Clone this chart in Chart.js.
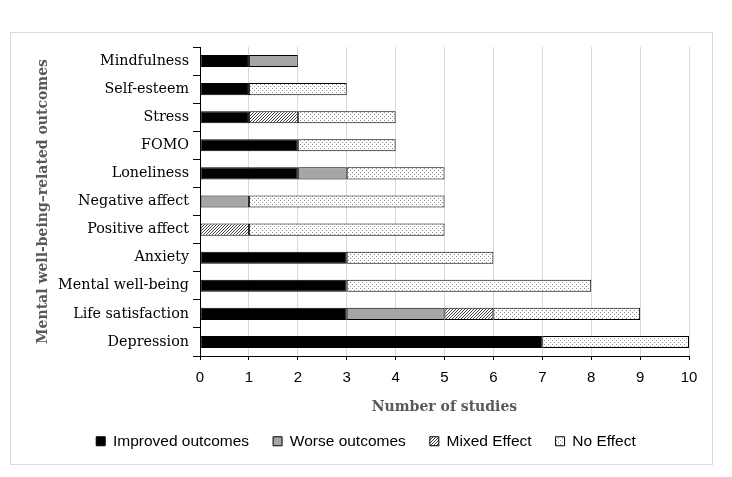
<!DOCTYPE html>
<html>
<head>
<meta charset="utf-8">
<script src="https://cdn.jsdelivr.net/npm/chart.js@4"></script>
<style>
  html, body { margin: 0; padding: 0; background: #fff; }
  canvas { display: block; }
</style>
</head>
<body>
<canvas id="studyChart" width="732" height="477"></canvas>
<script>
const outcomes = ['Mindfulness', 'Self-esteem', 'Stress', 'FOMO', 'Loneliness', 'Negative affect',
  'Positive affect', 'Anxiety', 'Mental well-being', 'Life satisfaction', 'Depression'];

const improved = [1, 1, 1, 2, 2, 0, 0, 3, 3, 3, 7];
const worse    = [1, 0, 0, 0, 1, 1, 0, 0, 0, 2, 0];
const mixed    = [0, 0, 1, 0, 0, 0, 1, 0, 0, 1, 0];
const noEffect = [0, 2, 2, 2, 2, 4, 4, 3, 5, 3, 3];

const xTicks = [0, 1, 2, 3, 4, 5, 6, 7, 8, 9, 10];

// little tiles for the hatched / dotted fills
function hatchPattern() {
  const c = document.createElement('canvas');
  c.width = 3; c.height = 3;
  const g = c.getContext('2d');
  g.fillStyle = '#fff';
  g.fillRect(0, 0, 3, 3);
  g.fillStyle = '#404040';
  g.fillRect(2, 0, 1, 1);
  g.fillRect(1, 1, 1, 1);
  g.fillRect(0, 2, 1, 1);
  return g.createPattern(c, 'repeat');
}

function dotPattern() {
  const c = document.createElement('canvas');
  c.width = 4; c.height = 4;
  const g = c.getContext('2d');
  g.fillStyle = '#fff';
  g.fillRect(0, 0, 4, 4);
  g.fillStyle = '#8c8c8c';
  g.fillRect(0, 0, 1, 1);
  g.fillRect(2, 2, 1, 1);
  return g.createPattern(c, 'repeat');
}

const frame = {
  id: 'frame',
  beforeDraw(chart) {
    const ctx = chart.ctx;
    ctx.save();
    ctx.fillStyle = '#fff';
    ctx.fillRect(0, 0, chart.width, chart.height);
    ctx.strokeStyle = '#d9d9d9';
    ctx.lineWidth = 1;
    ctx.strokeRect(10.5, 32.5, 702, 432);
    ctx.restore();
  }
};

const barStyle = { borderColor: '#000', borderWidth: 1, borderSkipped: false, barPercentage: 0.43, categoryPercentage: 1 };
const serif = 'DejaVu Serif';
const sans = 'Liberation Sans';

new Chart(document.getElementById('studyChart'), {
  type: 'bar',
  data: {
    labels: outcomes,
    datasets: [
      { label: 'Improved outcomes', data: improved, backgroundColor: '#000', ...barStyle },
      { label: 'Worse outcomes', data: worse, backgroundColor: '#a6a6a6', ...barStyle },
      { label: 'Mixed Effect', data: mixed, backgroundColor: hatchPattern(), ...barStyle },
      { label: 'No Effect', data: noEffect, backgroundColor: dotPattern(), ...barStyle }
    ]
  },
  options: {
    indexAxis: 'y',
    responsive: false,
    animation: false,
    layout: { padding: { top: 47, right: 43, bottom: 18, left: 43 } },
    plugins: {
      tooltip: { enabled: false },
      legend: {
        position: 'bottom',
        labels: {
          boxWidth: 9,
          boxHeight: 9,
          padding: 24,
          color: '#000',
          font: { family: sans, size: 15.5 }
        }
      }
    },
    scales: {
      x: {
        stacked: true,
        min: 0,
        max: 10,
        afterBuildTicks: s => { s.ticks = xTicks.map(v => ({ value: v })); },
        ticks: { color: '#000', padding: 9, font: { family: sans, size: 15 } },
        grid: { color: '#d9d9d9', tickColor: '#000', tickLength: 4, lineWidth: 1 },
        border: { color: '#000', width: 1 },
        title: {
          display: true,
          text: 'Number of studies',
          color: '#595959',
          font: { family: serif, size: 14, weight: 'bold' },
          padding: { top: 4, bottom: -6 }
        },
        afterFit: s => { s.height = 53.5; }
      },
      y: {
        stacked: true,
        ticks: { color: '#000', padding: 4, font: { family: serif, size: 14.3 } },
        grid: { drawOnChartArea: false, offset: true, tickColor: '#000', tickLength: 7 },
        border: { color: '#000', width: 1 },
        title: {
          display: true,
          text: 'Mental well-being–related outcomes',
          color: '#595959',
          font: { family: serif, size: 14, weight: 'bold' },
          padding: { top: -8.4, bottom: 0 }
        },
        afterFit: s => { s.width = 157; }
      }
    }
  },
  plugins: [frame]
});
</script>
</body>
</html>
